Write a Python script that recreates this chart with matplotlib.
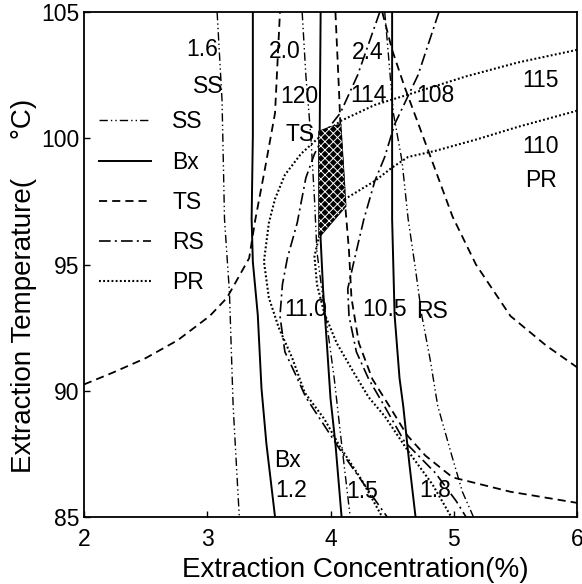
import matplotlib
matplotlib.use('Agg')
import matplotlib.pyplot as plt
from matplotlib import font_manager as fm
from matplotlib.lines import Line2D

try:
    fm.findfont('Liberation Sans Narrow', fallback_to_default=False)
    FAM = ['Liberation Sans Narrow', 'DejaVu Sans']
except Exception:
    FAM = ['Liberation Sans', 'DejaVu Sans']
plt.rcParams['font.family'] = FAM
plt.rcParams['hatch.linewidth'] = 0.7

# ---------------- data ----------------
# SS contours (1.6, 2.0, 2.4)
ss_16_x = [3.08, 3.12, 3.14, 3.18, 3.21, 3.26]
ss_16_y = [105.0, 101.5, 96.8, 93.9, 89.4, 85.0]
ss_20_x = [3.77, 3.80, 3.84, 3.87, 3.89, 3.93, 3.98, 4.03, 4.09, 4.16]
ss_20_y = [105.0, 102.5, 100.1, 97.6, 95.5, 94.0, 92.3, 90.5, 87.9, 85.0]
ss_24_x = [4.44, 4.47, 4.51, 4.58, 4.63, 4.69, 4.74, 4.81, 4.87, 4.98, 5.07, 5.16]
ss_24_y = [105.0, 103.3, 101.0, 99.1, 96.8, 94.8, 93.0, 91.2, 89.4, 87.5, 86.0, 85.0]

# Bx contours (1.2, 1.5, 1.8)
bx_12_x = [3.37, 3.37, 3.36, 3.37, 3.41, 3.44, 3.48, 3.55]
bx_12_y = [105.0, 100.1, 96.8, 95.1, 93.0, 90.1, 87.9, 85.0]
bx_15_x = [3.92, 3.91, 3.92, 3.94, 3.97, 4.00, 4.04, 4.09]
bx_15_y = [105.0, 98.8, 96.0, 94.0, 91.9, 89.7, 87.9, 85.0]
bx_18_x = [4.50, 4.50, 4.52, 4.56, 4.59, 4.64, 4.69]
bx_18_y = [105.0, 96.8, 93.0, 90.5, 89.4, 87.1, 85.0]

# TS contours (120, 114, 108)
ts_120_x = [2.00, 2.23, 2.50, 2.76, 3.02, 3.16, 3.34, 3.39, 3.47, 3.55, 3.59]
ts_120_y = [90.25, 90.71, 91.29, 92.0, 92.96, 93.68, 95.25, 96.78, 98.84, 101.0, 105.0]
ts_114_x = [4.04, 4.07, 4.08, 4.12, 4.15, 4.17, 4.23, 4.34, 4.48, 4.62, 4.77, 4.99, 5.46, 6.00]
ts_114_y = [105.0, 101.77, 100.55, 97.31, 95.54, 93.68, 91.89, 90.46, 89.37, 88.25, 87.43, 86.57, 86.0, 85.56]
ts_108_x = [4.42, 4.50, 4.60, 4.79, 4.99, 5.18, 5.46, 5.75, 6.00]
ts_108_y = [105.0, 103.5, 102.05, 99.55, 96.9, 95.0, 92.96, 91.79, 90.93]

# RS contours (11.0, 10.5)
rs_110_x = [4.40, 4.22, 4.08, 3.97, 3.87, 3.80, 3.73, 3.65, 3.61, 3.59, 3.63, 3.71, 3.80, 3.95, 4.09, 4.26, 4.46]
rs_110_y = [105.0, 102.5, 101.0, 100.32, 99.38, 98.43, 96.65, 95.25, 94.21, 92.96, 91.54, 90.71, 89.74, 88.62, 87.57, 86.38, 85.0]
rs_105_x = [4.88, 4.71, 4.52, 4.44, 4.36, 4.27, 4.19, 4.14, 4.15, 4.21, 4.31, 4.44, 4.60, 4.85, 5.02, 5.10]
rs_105_y = [105.0, 102.5, 100.55, 99.26, 98.31, 96.78, 95.12, 94.04, 92.96, 91.54, 90.46, 89.37, 87.99, 86.75, 85.63, 85.0]

# PR contours (115, 110)
pr_115_x = [6.00, 5.52, 5.10, 4.69, 4.36, 4.08, 3.89, 3.76, 3.63, 3.55, 3.50, 3.46, 3.50, 3.58, 3.69, 3.79, 3.95, 4.08, 4.25, 4.42]
pr_115_y = [103.5, 103.0, 102.45, 101.82, 101.32, 100.68, 99.96, 99.38, 98.55, 97.6, 96.65, 95.12, 93.68, 92.5, 91.29, 89.93, 88.88, 87.76, 86.49, 85.0]
pr_110_x = [6.00, 5.52, 5.19, 4.85, 4.63, 4.50, 4.36, 4.12, 3.98, 3.91, 3.87, 3.89, 3.95, 4.05, 4.19, 4.31, 4.44, 4.63, 4.83, 4.98]
pr_110_y = [101.09, 100.45, 99.96, 99.5, 99.26, 98.84, 98.31, 97.6, 96.78, 96.16, 95.33, 94.21, 93.07, 91.89, 90.71, 89.74, 88.99, 87.61, 86.27, 85.0]

# optimum (overlapping) region
opt_x = [3.906, 4.00, 4.083, 4.124, 3.906]
opt_y = [100.27, 100.45, 100.55, 97.31, 96.07]

# contour labels
label_text = ['1.6', 'SS', '2.0', '120', 'TS', '2.4', '114', '108', '115', '110', 'PR',
              '11.0', '10.5', 'RS', 'Bx', '1.2', '1.5', '1.8']
label_x = [2.96, 3.01, 3.63, 3.75, 3.75, 4.30, 4.31, 4.85, 5.70, 5.70, 5.71,
           3.80, 4.44, 4.82, 3.65, 3.68, 4.26, 4.85]
label_y = [103.5, 102.05, 103.45, 101.64, 100.14, 103.41, 101.68, 101.68, 102.27, 99.67, 98.31,
           93.21, 93.21, 93.14, 87.24, 86.04, 86.0, 86.04]

series_names = ['SS', 'Bx', 'TS', 'RS', 'PR']
x_ticks = [2, 3, 4, 5, 6]
y_ticks = [85, 90, 95, 100, 105]

# ---------------- styles ----------------
styles = {
    'SS': dict(color='black', lw=1.0, ls=(0, (6, 2.2, 1, 2.2, 1, 2.2))),
    'Bx': dict(color='black', lw=1.4, ls='-'),
    'TS': dict(color='black', lw=1.3, ls=(0, (4.5, 2.8))),
    'RS': dict(color='black', lw=1.2, ls=(0, (7, 2.5, 1.2, 2.5))),
    'PR': dict(color='black', lw=1.5, ls=(0, (0.9, 1.1))),
}
contours = {
    'SS': [(ss_16_x, ss_16_y), (ss_20_x, ss_20_y), (ss_24_x, ss_24_y)],
    'Bx': [(bx_12_x, bx_12_y), (bx_15_x, bx_15_y), (bx_18_x, bx_18_y)],
    'TS': [(ts_120_x, ts_120_y), (ts_114_x, ts_114_y), (ts_108_x, ts_108_y)],
    'RS': [(rs_110_x, rs_110_y), (rs_105_x, rs_105_y)],
    'PR': [(pr_115_x, pr_115_y), (pr_110_x, pr_110_y)],
}

fig = plt.figure(figsize=(5.82, 5.84), dpi=100)
ax = fig.add_axes([84 / 582, 1 - 517 / 584, 493 / 582, 505 / 584])

for name in series_names:
    st = styles[name]
    for xs, ys in contours[name]:
        ax.plot(xs, ys, color=st['color'], lw=st['lw'], linestyle=st['ls'])

ax.fill(opt_x, opt_y, facecolor='black', edgecolor='black', lw=1.0, zorder=3)
ax.fill(opt_x, opt_y, facecolor='none', edgecolor='white', hatch='xxxx', lw=0, zorder=4)

for t, x, y in zip(label_text, label_x, label_y):
    ax.text(x, y, t, fontsize=16.5, ha='center', va='center', zorder=5)

handles = [Line2D([], [], color=styles[n]['color'], lw=styles[n]['lw'],
                  linestyle=styles[n]['ls']) for n in series_names]
ax.legend(handles, series_names, loc='upper left', bbox_to_anchor=(0.03, 0.805),
          frameon=False, fontsize=16.5, handlelength=2.3, handletextpad=0.9,
          labelspacing=0.75, borderpad=0, borderaxespad=0)

ax.set_xlim(2, 6)
ax.set_ylim(85, 105)
ax.set_xticks(x_ticks)
ax.set_yticks(y_ticks)
ax.tick_params(direction='in', length=4, width=1, labelsize=16.5, top=False, right=False)
ax.tick_params(axis='x', pad=8)
for s in ax.spines.values():
    s.set_linewidth(1.3)

ax.set_xlabel('Extraction Concentration(%)', fontsize=20)
ax.set_ylabel('Extraction Temperature(     °C)', fontsize=20)
ax.xaxis.set_label_coords(0.55, -0.08)
ax.yaxis.set_label_coords(-0.095, 0.457)

fig.savefig('out.png', dpi=100)
